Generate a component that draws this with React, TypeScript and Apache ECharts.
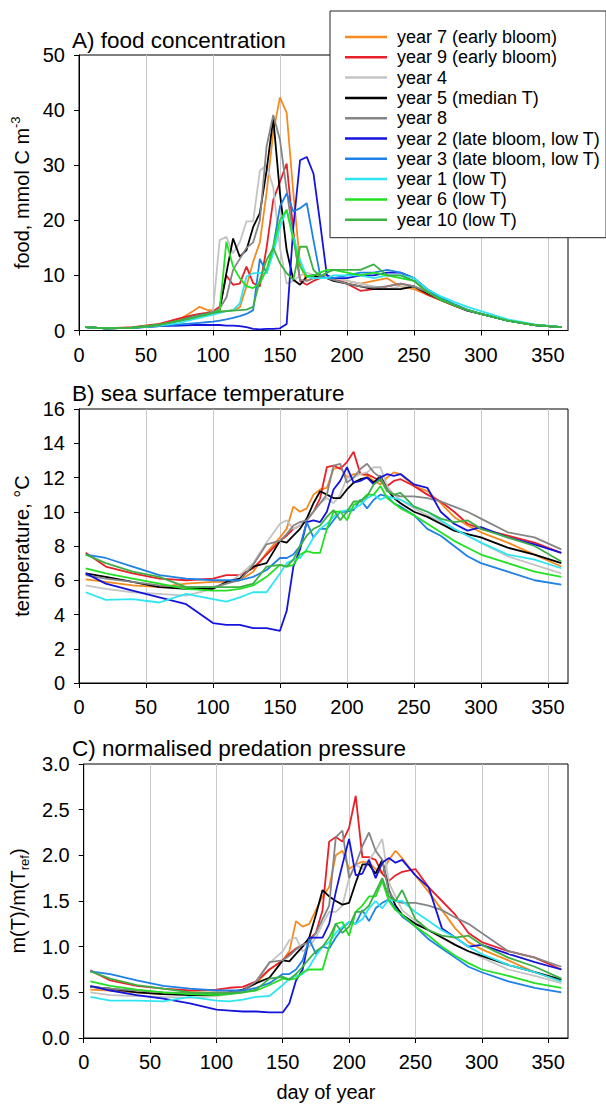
import React, { useEffect, useRef } from 'react';
import * as echarts from 'echarts';

// ---------- data ----------
const NAMES = [
  'year 7 (early bloom)',
  'year 9 (early bloom)',
  'year 4',
  'year 5 (median T)',
  'year 8',
  'year 2 (late bloom, low T)',
  'year 3 (late bloom, low T)',
  'year 1 (low T)',
  'year 6 (low T)',
  'year 10 (low T)',
];
const COLORS = ['#f58a1f', '#e8202a', '#c4c4c4', '#000000', '#858585', '#1414dc', '#1f80e6', '#2ee6f2', '#22e022', '#3cb043'];

const X_TICKS = [0, 50, 100, 150, 200, 250, 300, 350];

// Panel A: food concentration (day of year)
const DAYS_A = [5, 20, 40, 60, 75, 85, 90, 95, 100, 105, 110, 115, 120, 125, 130, 135, 140, 145, 150, 155, 160, 165, 170, 175, 180, 185, 190, 200, 210, 220, 230, 240, 250, 260, 270, 280, 290, 300, 320, 340, 360];
const FOOD_Y7 = [0.6, 0.4, 0.5, 1.0, 2.0, 3.5, 4.3, 3.8, 3.6, 3.4, 3.5, 3.7, 4.2, 8, 12.5, 16, 25, 36, 42.3, 39.5, 25, 12, 9, 9.5, 10, 10, 9.5, 9, 8.5, 9, 9.5, 8, 7.5, 6.5, 5.5, 4.5, 3.6, 3, 1.8, 1.0, 0.6];
const FOOD_Y9 = [0.6, 0.4, 0.6, 1.2, 2.2, 2.8, 3.0, 3.2, 3.5, 4.3, 10, 8.3, 8.5, 11.6, 8.6, 8, 15, 23.7, 27, 30.3, 18, 9, 8.3, 9, 9.5, 9.5, 9.5, 8.5, 7.2, 7.5, 8, 8.5, 8, 6.5, 5.5, 4.5, 3.6, 3, 1.8, 1.0, 0.6];
const FOOD_Y4 = [0.6, 0.4, 0.5, 1.0, 1.8, 2.5, 2.8, 3.0, 3.5, 16.4, 17, 14, 16, 19.8, 19.8, 29, 30, 26, 15, 8.5, 9, 10, 10.5, 10, 9.5, 9.5, 9.5, 9, 8.5, 8, 7.5, 8, 8, 7, 5.8, 4.7, 3.7, 3, 1.8, 1.0, 0.6];
const FOOD_Y5 = [0.6, 0.4, 0.5, 1.0, 1.8, 2.5, 2.8, 3.0, 3.3, 3.7, 10.4, 16.7, 13.4, 14.6, 18.8, 21.3, 29, 38.5, 24.9, 14.6, 9.2, 8.3, 9.8, 10, 9.5, 9.5, 9, 8.5, 8, 7.5, 7.5, 7.5, 8, 6.8, 5.6, 4.6, 3.7, 3, 1.8, 1.0, 0.6];
const FOOD_Y8 = [0.6, 0.4, 0.5, 1.0, 1.8, 2.5, 2.8, 3.0, 3.3, 4, 6, 11, 13, 15, 16, 20, 33.4, 39.1, 34.6, 25.5, 17, 9.2, 9, 9.5, 9.5, 9.5, 9.2, 8.5, 8, 7.8, 8, 8.5, 8, 7, 5.8, 4.6, 3.6, 3, 1.8, 1.0, 0.6];
const FOOD_Y2 = [0.6, 0.4, 0.5, 0.8, 0.9, 1.0, 1.0, 1.0, 1.0, 1.0, 0.9, 0.9, 0.8, 0.6, 0.3, 0.2, 0.3, 0.3, 0.4, 1.2, 18.8, 30.9, 31.5, 28.5, 19.5, 10, 9.5, 9.5, 10, 10, 10.5, 10.5, 9.5, 7.5, 6, 4.6, 3.6, 3, 1.8, 1.0, 0.6];
const FOOD_Y3 = [0.6, 0.4, 0.5, 0.8, 1.1, 1.3, 1.4, 1.5, 1.6, 1.8, 2.0, 2.3, 2.6, 3.0, 3.7, 13, 10.4, 15.2, 22.5, 24.9, 21.6, 22.2, 23.1, 16.4, 10, 9.5, 9.5, 10, 10.5, 10.5, 11, 10.5, 9.5, 7.5, 6, 4.8, 3.8, 3, 1.8, 1.0, 0.6];
const FOOD_Y1 = [0.6, 0.4, 0.5, 0.9, 1.4, 2.0, 2.3, 2.6, 2.9, 3.2, 3.5, 3.7, 4.9, 9.8, 10.4, 10.4, 10.4, 14, 18.8, 21.9, 17, 12.8, 9.8, 9.5, 9.5, 9.5, 10, 10, 10, 9.5, 10, 10, 9.5, 7.5, 6.2, 5.2, 4.3, 3.5, 2.0, 1.1, 0.6];
const FOOD_Y6 = [0.6, 0.4, 0.5, 1.0, 1.8, 2.3, 2.6, 2.9, 3.2, 3.7, 16.1, 11.6, 9.5, 8, 7.7, 8.6, 11, 15.2, 20, 21.9, 16.4, 11.6, 9.8, 10, 10.5, 11, 11, 10.5, 10, 10.5, 10, 9.5, 9, 7, 5.7, 4.6, 3.7, 3, 1.8, 1.0, 0.6];
const FOOD_Y10 = [0.6, 0.4, 0.5, 1.0, 1.8, 2.3, 2.6, 2.9, 3.2, 3.4, 3.5, 3.6, 3.7, 3.8, 4.3, 9.2, 12.8, 15, 12.2, 10.4, 9.2, 15.2, 15.2, 11, 9.8, 10.5, 11, 11, 11, 12, 10, 10, 9, 7, 5.5, 4.6, 3.7, 3, 1.8, 1.0, 0.6];

// Panels B and C share these days
const DAYS_BC = [5, 20, 40, 60, 80, 100, 110, 120, 130, 140, 150, 155, 160, 165, 170, 175, 180, 185, 190, 195, 200, 205, 210, 215, 220, 225, 230, 235, 240, 250, 260, 270, 280, 290, 300, 320, 340, 360];

// Panel B: sea surface temperature
const SST_Y7 = [6.05, 5.9, 5.7, 5.6, 5.8, 5.9, 5.9, 6.0, 6.5, 7.6, 8.5, 9.0, 10.3, 10.0, 10.2, 11.0, 11.3, 11.4, 12.5, 12.6, 12.0, 12.2, 12.2, 12.1, 11.8, 11.6, 12.0, 12.3, 12.2, 11.5, 11.2, 10.5, 9.7, 9.2, 8.8, 8.2, 7.5, 6.8];
const SST_Y9 = [7.6, 6.8, 6.4, 6.1, 6.0, 6.1, 6.3, 6.3, 6.7, 7.5, 8.3, 8.6, 9.0, 9.2, 9.5, 10.0, 10.8, 12.6, 12.7, 12.5, 12.9, 13.5, 12.2, 12.2, 12.0, 11.8, 11.5, 11.8, 11.9, 11.5, 11.0, 10.6, 10.0, 9.3, 9.0, 8.6, 8.2, 7.6];
const SST_Y4 = [5.7, 5.5, 5.3, 5.2, 5.1, 5.5, 5.8, 6.3, 7.0, 8.2, 9.3, 9.5, 9.0, 9.2, 9.6, 10.0, 10.5, 10.8, 10.5, 11.0, 12.0, 12.0, 12.2, 12.3, 12.6, 12.6, 11.5, 11.0, 10.7, 10.2, 9.8, 9.4, 9.0, 8.6, 8.2, 7.4, 6.9, 6.4];
const SST_Y5 = [6.4, 6.2, 5.9, 5.6, 5.5, 5.5, 5.9, 6.1, 6.8, 7.0, 8.3, 8.2, 8.6, 9.0, 9.6, 10.5, 11.2, 11.0, 10.8, 10.8, 11.3, 11.7, 11.9, 12.0, 11.7, 12.1, 11.3, 10.8, 10.5, 10.0, 9.7, 9.3, 8.9, 8.7, 8.5, 7.9, 7.5, 7.0];
const SST_Y8 = [6.3, 6.1, 5.9, 5.7, 5.6, 5.6, 5.8, 6.0, 6.9, 8.1, 8.3, 8.7, 9.2, 9.4, 9.5, 10.0, 10.5, 11.0, 12.7, 12.8, 11.7, 12.0, 12.5, 12.8, 12.3, 12.0, 11.3, 11.0, 10.9, 10.9, 10.8, 10.6, 10.3, 10.0, 9.6, 8.8, 8.5, 7.8];
const SST_Y2 = [6.4, 5.8, 5.4, 5.0, 4.6, 3.5, 3.4, 3.4, 3.2, 3.2, 3.05, 4.2, 6.8, 7.8, 9.4, 9.5, 9.4, 10.0, 11.3, 11.8, 12.6, 11.7, 11.8, 12.0, 11.6, 12.0, 12.2, 12.1, 12.2, 11.6, 11.4, 10.0, 9.3, 8.9, 9.1, 8.5, 8.1, 7.6];
const SST_Y3 = [7.5, 7.3, 6.8, 6.3, 6.1, 6.0, 6.0, 6.0, 6.2, 6.6, 7.3, 7.3, 7.5, 8.0, 9.4, 8.5, 9.0, 9.0, 9.5, 10.0, 10.0, 10.1, 10.7, 10.2, 10.7, 11.0, 10.9, 10.5, 10.3, 9.8, 9.0, 8.6, 8.0, 7.4, 7.0, 6.5, 6.0, 5.75];
const SST_Y1 = [5.3, 4.85, 4.9, 4.7, 5.2, 4.9, 4.75, 5.0, 5.3, 5.3, 6.4, 7.0, 7.2, 7.3, 7.8, 8.5, 9.0, 9.3, 9.7, 10.0, 10.1, 10.2, 10.4, 10.8, 11.0, 10.7, 10.9, 10.8, 10.7, 10.3, 10.0, 9.5, 9.0, 8.6, 8.2, 7.5, 7.2, 6.7];
const SST_Y6 = [6.7, 6.4, 6.1, 5.8, 5.5, 5.4, 5.4, 5.5, 5.7, 6.2, 6.9, 6.8, 6.9, 7.5, 7.7, 7.6, 7.6, 9.0, 10.0, 10.0, 9.5, 10.4, 10.6, 11.0, 11.0, 11.5, 10.8, 10.5, 10.2, 9.8, 9.3, 8.8, 8.3, 7.9, 7.5, 7.0, 6.5, 6.2];
const SST_Y10 = [7.5, 7.0, 6.5, 6.2, 5.6, 5.6, 5.6, 5.6, 5.8, 6.8, 6.9, 6.8, 7.2, 8.0, 8.6, 9.0, 9.2, 9.7, 10.1, 9.5, 10.0, 10.6, 10.6, 10.9, 11.6, 11.9, 11.2, 11.0, 11.1, 10.3, 10.0, 9.6, 9.4, 9.5, 9.0, 8.5, 8.0, 7.1];

// Panel C: normalised predation pressure
const PRED_Y7 = [0.53, 0.52, 0.5, 0.48, 0.5, 0.5, 0.5, 0.52, 0.6, 0.75, 0.85, 0.95, 1.28, 1.22, 1.25, 1.4, 1.55, 1.65, 2.0, 2.05, 1.85, 1.9, 1.93, 1.92, 1.85, 1.8, 1.95, 2.05, 1.97, 1.78, 1.6, 1.4, 1.2, 1.05, 0.97, 0.85, 0.72, 0.62];
const PRED_Y9 = [0.74, 0.63, 0.57, 0.54, 0.52, 0.53, 0.55, 0.56, 0.62, 0.75, 0.85, 0.92, 0.98, 1.02, 1.08, 1.15, 1.4, 2.15, 2.2, 2.15, 2.3, 2.65, 1.98, 1.98, 1.95, 1.8, 1.72, 1.78, 1.82, 1.85, 1.65, 1.5, 1.35, 1.15, 1.05, 0.95, 0.88, 0.75];
const PRED_Y4 = [0.5, 0.47, 0.46, 0.45, 0.44, 0.46, 0.48, 0.5, 0.62, 0.82, 0.95, 1.07, 1.1, 0.95, 1.0, 1.1, 1.25, 1.38, 1.38, 1.45, 1.75, 1.9, 1.85, 1.95, 2.05, 2.18, 1.7, 1.55, 1.4, 1.28, 1.18, 1.1, 1.02, 0.95, 0.88, 0.75, 0.68, 0.6];
const PRED_Y5 = [0.56, 0.54, 0.5, 0.48, 0.47, 0.47, 0.5, 0.53, 0.6, 0.66, 0.85, 0.84, 0.92, 1.0, 1.1, 1.35, 1.62, 1.55, 1.5, 1.46, 1.48, 1.7, 1.9, 1.9, 1.8, 1.95, 1.62, 1.45, 1.35, 1.25, 1.18, 1.1, 1.02, 0.95, 0.9, 0.8, 0.72, 0.64];
const PRED_Y8 = [0.56, 0.54, 0.52, 0.5, 0.49, 0.49, 0.5, 0.52, 0.62, 0.83, 0.85, 0.9, 0.97, 1.02, 1.05, 1.15, 1.3, 1.45, 2.2, 2.27, 1.75, 1.9, 2.1, 2.25, 2.05, 1.95, 1.6, 1.5, 1.48, 1.48, 1.45, 1.4, 1.32, 1.25, 1.15, 0.95, 0.88, 0.78];
const PRED_Y2 = [0.57, 0.52, 0.47, 0.43, 0.38, 0.31, 0.3, 0.29, 0.29, 0.28, 0.28, 0.38, 0.63, 0.75, 1.1, 1.1, 1.1, 1.25, 1.6, 1.9, 2.18, 1.78, 1.8, 1.95, 1.75, 1.92, 1.97, 1.92, 1.95, 1.78, 1.65, 1.2, 1.1, 1.0, 1.02, 0.92, 0.83, 0.75];
const PRED_Y3 = [0.73, 0.7, 0.63, 0.57, 0.54, 0.52, 0.52, 0.52, 0.55, 0.6, 0.7, 0.7, 0.75, 0.85, 1.08, 0.92, 1.0, 0.98, 1.1, 1.2, 1.27, 1.25, 1.4, 1.28, 1.42, 1.48, 1.52, 1.42, 1.33, 1.22, 1.08, 0.98, 0.88, 0.78, 0.72, 0.62, 0.55, 0.5];
const PRED_Y1 = [0.45, 0.41, 0.41, 0.4, 0.45, 0.41, 0.4, 0.42, 0.45, 0.46, 0.58, 0.65, 0.68, 0.7, 0.78, 0.9, 1.0, 1.05, 1.15, 1.22, 1.27, 1.25, 1.3, 1.42, 1.5, 1.42, 1.52, 1.5, 1.5, 1.38, 1.28, 1.18, 1.1, 1.0, 0.92, 0.8, 0.72, 0.62];
const PRED_Y6 = [0.62, 0.57, 0.53, 0.5, 0.48, 0.47, 0.48, 0.5, 0.52, 0.58, 0.65, 0.64, 0.65, 0.72, 0.75, 0.75, 0.75, 1.0, 1.25, 1.27, 1.12, 1.38, 1.45, 1.55, 1.55, 1.72, 1.5, 1.4, 1.35, 1.22, 1.12, 1.0, 0.9, 0.82, 0.75, 0.68, 0.6, 0.55];
const PRED_Y10 = [0.73, 0.65, 0.58, 0.54, 0.5, 0.49, 0.49, 0.5, 0.53, 0.65, 0.67, 0.64, 0.7, 0.78, 0.87, 0.95, 1.0, 1.1, 1.25, 1.15, 1.22, 1.38, 1.38, 1.45, 1.6, 1.75, 1.55, 1.5, 1.62, 1.3, 1.18, 1.12, 1.1, 1.12, 1.02, 0.88, 0.78, 0.65];

const FOOD = [FOOD_Y7, FOOD_Y9, FOOD_Y4, FOOD_Y5, FOOD_Y8, FOOD_Y2, FOOD_Y3, FOOD_Y1, FOOD_Y6, FOOD_Y10];
const SST = [SST_Y7, SST_Y9, SST_Y4, SST_Y5, SST_Y8, SST_Y2, SST_Y3, SST_Y1, SST_Y6, SST_Y10];
const PRED = [PRED_Y7, PRED_Y9, PRED_Y4, PRED_Y5, PRED_Y8, PRED_Y2, PRED_Y3, PRED_Y1, PRED_Y6, PRED_Y10];

const FONT = '"Liberation Sans", Arial, Helvetica, sans-serif';

function buildOption() {
  const panels = [
    { days: DAYS_A, sets: FOOD },
    { days: DAYS_BC, sets: SST },
    { days: DAYS_BC, sets: PRED },
  ];
  const series: any[] = [];
  panels.forEach((p, pi) => {
    p.sets.forEach((vals, i) => {
      series.push({
        type: 'line',
        name: NAMES[i],
        xAxisIndex: pi,
        yAxisIndex: pi,
        data: p.days.map((d, j) => [d, vals[j]]),
        symbol: 'none',
        showSymbol: false,
        lineStyle: { width: 1.8, color: COLORS[i] },
        itemStyle: { color: COLORS[i] },
        emphasis: { disabled: true },
      });
    });
  });

  const gridTops = [55, 409, 764];
  const gridHeights = [275.5, 274, 274];
  const grid = gridTops.map((t, i) => ({
    left: 79,
    right: 38,
    top: t,
    height: gridHeights[i],
    show: true,
    borderColor: '#000',
    borderWidth: 1,
    backgroundColor: 'transparent',
  }));

  const xAxis = [0, 1, 2].map((i) => ({
    type: 'value',
    gridIndex: i,
    min: 0,
    max: 365,
    interval: 50,
    axisLine: { show: true, onZero: false, lineStyle: { color: '#000', width: 1 } },
    axisTick: { show: true, inside: false, length: 5, customValues: X_TICKS, lineStyle: { color: '#000' } },
    axisLabel: { customValues: X_TICKS, fontSize: 20, color: '#000', margin: 14, fontFamily: FONT },
    splitLine: { show: true, lineStyle: { color: '#c8c8c8', width: 1 } },
    name: i === 2 ? 'day of year' : '',
    nameLocation: 'middle',
    nameGap: 44,
    nameTextStyle: { fontSize: 20, color: '#000', fontFamily: FONT },
  }));

  const yCommon = {
    type: 'value',
    axisLine: { show: true, onZero: false, lineStyle: { color: '#000', width: 1 } },
    axisTick: { show: true, inside: false, length: 5, lineStyle: { color: '#000' } },
    splitLine: { show: false },
    nameLocation: 'middle',
  };
  const yAxis = [
    {
      ...yCommon,
      gridIndex: 0,
      min: 0,
      max: 50,
      interval: 10,
      axisLabel: { fontSize: 20, color: '#000', margin: 14, fontFamily: FONT },
      name: '{a|food, mmol C m}{s|-3}',
      nameGap: 40,
      nameTextStyle: {
        fontFamily: FONT,
        rich: {
          a: { fontSize: 20, color: '#000', lineHeight: 26, fontFamily: FONT },
          s: { fontSize: 13, color: '#000', lineHeight: 13, verticalAlign: 'top', fontFamily: FONT },
        },
      },
    },
    {
      ...yCommon,
      gridIndex: 1,
      min: 0,
      max: 16,
      interval: 2,
      axisLabel: { fontSize: 20, color: '#000', margin: 14, fontFamily: FONT },
      name: 'temperature, °C',
      nameGap: 40,
      nameTextStyle: { fontSize: 20, color: '#000', fontFamily: FONT },
    },
    {
      ...yCommon,
      gridIndex: 2,
      min: 0,
      max: 3,
      interval: 0.5,
      axisLabel: { fontSize: 20, color: '#000', margin: 14, fontFamily: FONT, formatter: (v: number) => v.toFixed(1) },
      name: '{a|m(T)/m(T}{s|ref}{a|)}',
      nameGap: 44,
      nameTextStyle: {
        fontFamily: FONT,
        rich: {
          a: { fontSize: 20, color: '#000', lineHeight: 26, fontFamily: FONT },
          s: { fontSize: 13, color: '#000', lineHeight: 13, verticalAlign: 'bottom', fontFamily: FONT },
        },
      },
    },
  ];

  const titles = [
    { text: 'A) food concentration', top: 24 },
    { text: 'B) sea surface temperature', top: 377 },
    { text: 'C) normalised predation pressure', top: 732 },
  ].map((t) => ({
    text: t.text,
    left: 67,
    top: t.top,
    textStyle: { fontSize: 22.5, fontWeight: 'normal', color: '#000', fontFamily: FONT },
  }));

  return {
    animation: false,
    backgroundColor: '#fff',
    textStyle: { fontFamily: FONT },
    title: titles,
    legend: {
      data: NAMES,
      orient: 'vertical',
      left: 330,
      top: 11,
      padding: [16, 6, 8, 15],
      icon: 'rect',
      itemWidth: 42,
      itemHeight: 2.5,
      itemGap: 0.3,
      backgroundColor: '#fff',
      borderColor: '#222',
      borderWidth: 1,
      selectedMode: false,
      textStyle: { fontSize: 18, color: '#000', lineHeight: 20, fontFamily: FONT, padding: [0, 0, 0, 5] },
    },
    grid,
    xAxis,
    yAxis,
    series,
  };
}

export default function App() {
  const ref = useRef<HTMLDivElement>(null);
  useEffect(() => {
    if (!ref.current) return;
    const chart = echarts.init(ref.current, undefined, { renderer: 'svg' });
    chart.setOption(buildOption() as any);
    return () => chart.dispose();
  }, []);
  return (
    <div
      ref={ref}
      style={{ position: 'absolute', left: 0, top: 0, width: 606, height: 1106, background: '#fff' }}
    />
  );
}
